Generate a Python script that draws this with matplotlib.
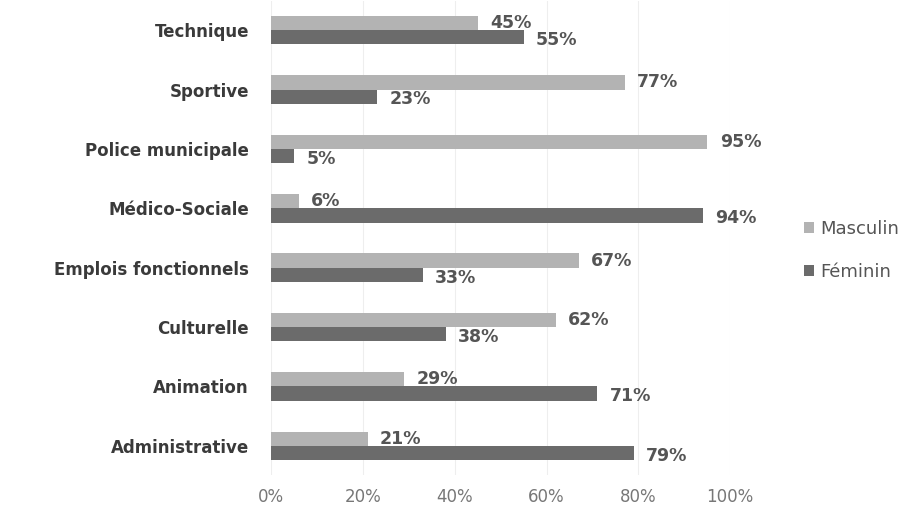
import matplotlib.pyplot as plt
import numpy as np

# categories listed bottom to top
categories = ['Administrative', 'Animation', 'Culturelle', 'Emplois fonctionnels',
              'Médico-Sociale', 'Police municipale', 'Sportive', 'Technique']
masculin = [21, 29, 62, 67, 6, 95, 77, 45]
feminin = [79, 71, 38, 33, 94, 5, 23, 55]
xticks = [0, 20, 40, 60, 80, 100]

col_m = '#b3b3b3'
col_f = '#6b6b6b'

fig = plt.figure(figsize=(9.07, 5.08), dpi=100)
ax = fig.add_axes([0.299, 0.064, 0.506, 0.935])

y = np.arange(len(categories))
h = 0.24
bm = ax.barh(y + h / 2, masculin, height=h, color=col_m, label='Masculin')
bf = ax.barh(y - h / 2, feminin, height=h, color=col_f, label='Féminin')

for bars, vals, dy in ((bm, masculin, 0), (bf, feminin, -2)):
    for b, v in zip(bars, vals):
        ax.annotate(f'{v}%', (v, b.get_y() + b.get_height() / 2),
                    xytext=(9, dy), textcoords='offset points',
                    ha='left', va='center', fontsize=12.5, fontweight='bold',
                    color='#555555')

ax.set_xlim(0, 100)
ax.set_ylim(-0.5, len(categories) - 0.5)
ax.set_xticks(xticks)
ax.set_xticklabels([f'{t}%' for t in xticks], fontsize=12, color='#777777')
ax.set_yticks(y)
ax.set_yticklabels(categories, fontsize=12, fontweight='bold', color='#3a3a3a')
ax.tick_params(length=0, pad=16)
ax.tick_params(axis='x', pad=9)
ax.xaxis.grid(True, color='#eeeeee', linewidth=0.8)
ax.set_axisbelow(True)
for sp in ax.spines.values():
    sp.set_visible(False)

fig.legend(handles=[bm, bf], loc='center left', bbox_to_anchor=(0.868, 0.507),
           frameon=False, fontsize=13, handlelength=0.6, handleheight=0.6,
           handletextpad=0.3, labelspacing=1.4, labelcolor='#555555')

fig.savefig('out.png', dpi=100, facecolor='white')
